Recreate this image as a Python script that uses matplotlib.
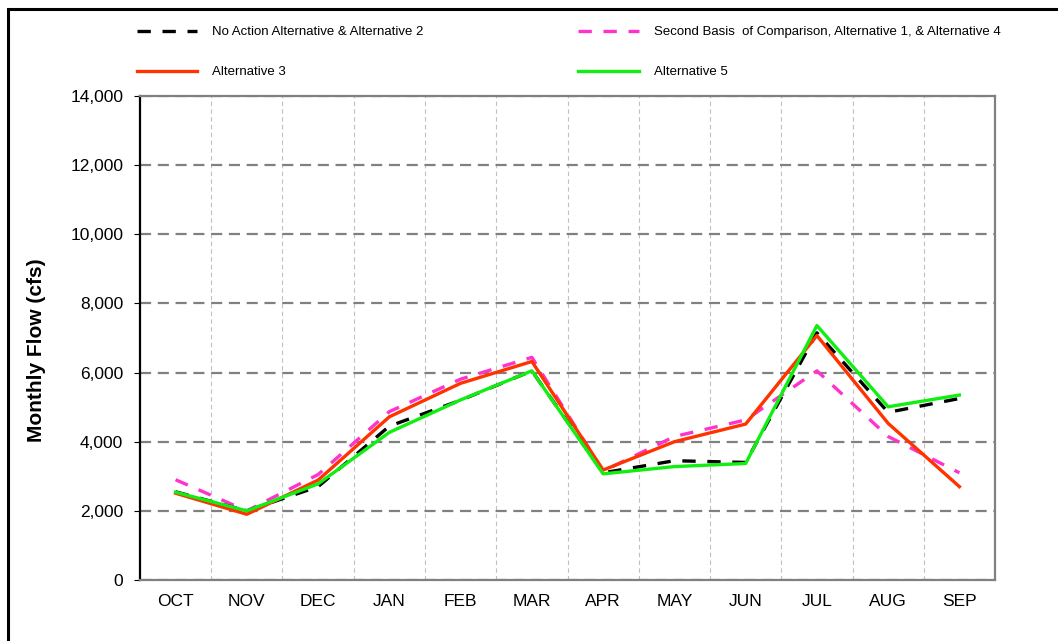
import matplotlib
matplotlib.use('Agg')
import matplotlib.pyplot as plt
from matplotlib.patches import Rectangle
from matplotlib.ticker import FuncFormatter

plt.rcParams['font.family'] = ['Liberation Sans', 'DejaVu Sans']

meses = ['OCT', 'NOV', 'DEC', 'JAN', 'FEB', 'MAR', 'APR', 'MAY', 'JUN', 'JUL', 'AUG', 'SEP']

# caudal medio mensual (cfs) por alternativa
no_action = [2550, 2000, 2700, 4450, 5200, 6050, 3100, 3450, 3400, 7150, 4850, 5250]
second_basis = [2900, 2000, 3050, 4870, 5810, 6440, 3150, 4150, 4630, 6050, 4150, 3100]
alt3 = [2510, 1900, 2890, 4720, 5690, 6320, 3180, 4000, 4510, 7070, 4530, 2700]
alt5 = [2540, 2000, 2780, 4270, 5210, 6050, 3070, 3280, 3370, 7360, 5010, 5350]

fig = plt.figure(figsize=(10.58, 6.41), dpi=100)
ax = fig.add_axes([0.1323, 0.0952, 0.8082, 0.755])

x = list(range(len(meses)))
l1, = ax.plot(x, second_basis, color='#ff33cc', lw=2.4, dashes=(4, 3.5),
              label='Second Basis  of Comparison, Alternative 1, & Alternative 4')
l0, = ax.plot(x, no_action, color='black', lw=2.4, dashes=(4, 3.5),
              label='No Action Alternative & Alternative 2')
l2, = ax.plot(x, alt3, color='#ff3300', lw=2.4, label='Alternative 3')
l3, = ax.plot(x, alt5, color='#11ee11', lw=2.4, label='Alternative 5')

ax.set_xlim(-0.5, 11.5)
ax.set_ylim(0, 14000)
ax.set_yticks(range(0, 14001, 2000))
ax.yaxis.set_major_formatter(FuncFormatter(lambda v, p: '{:,.0f}'.format(v)))
ax.set_xticks(x)
ax.set_xticklabels(meses)
ax.set_xticks([i + 0.5 for i in range(11)], minor=True)
ax.tick_params(axis='x', which='both', length=0, labelsize=12.5, pad=10)
ax.tick_params(axis='y', length=4, labelsize=12.5, direction='out', pad=8)

ax.grid(axis='y', which='major', color='#808080', lw=1.6, ls=(0, (5, 3)))
ax.grid(axis='x', which='minor', color='#c0c0c0', lw=0.8, ls=(0, (4, 3)))
ax.set_axisbelow(True)

ax.spines['left'].set_color('black')
ax.spines['left'].set_linewidth(1.6)
for s in ['top', 'right', 'bottom']:
    ax.spines[s].set_color('#808080')
    ax.spines[s].set_linewidth(1.6)

ax.set_ylabel('Monthly Flow (cfs)', fontsize=15, fontweight='bold')
ax.yaxis.set_label_coords(-0.11, 0.475)

# ncol=2 llena por columnas, asi que se ordena para que quede por filas
fig.legend(handles=[l0, l2, l1, l3], loc='upper left', ncol=2,
           bbox_to_anchor=(0.118, 0.978), frameon=False, fontsize=9.5,
           handlelength=4.6, columnspacing=11.75, labelspacing=2.12,
           handletextpad=1.1)

# marco de la figura
fig.patches.append(Rectangle((8 / 1058, -0.1), 1.2, 1.086, transform=fig.transFigure,
                             fill=False, edgecolor='black', lw=2.2))

fig.savefig('out.png', dpi=100)
